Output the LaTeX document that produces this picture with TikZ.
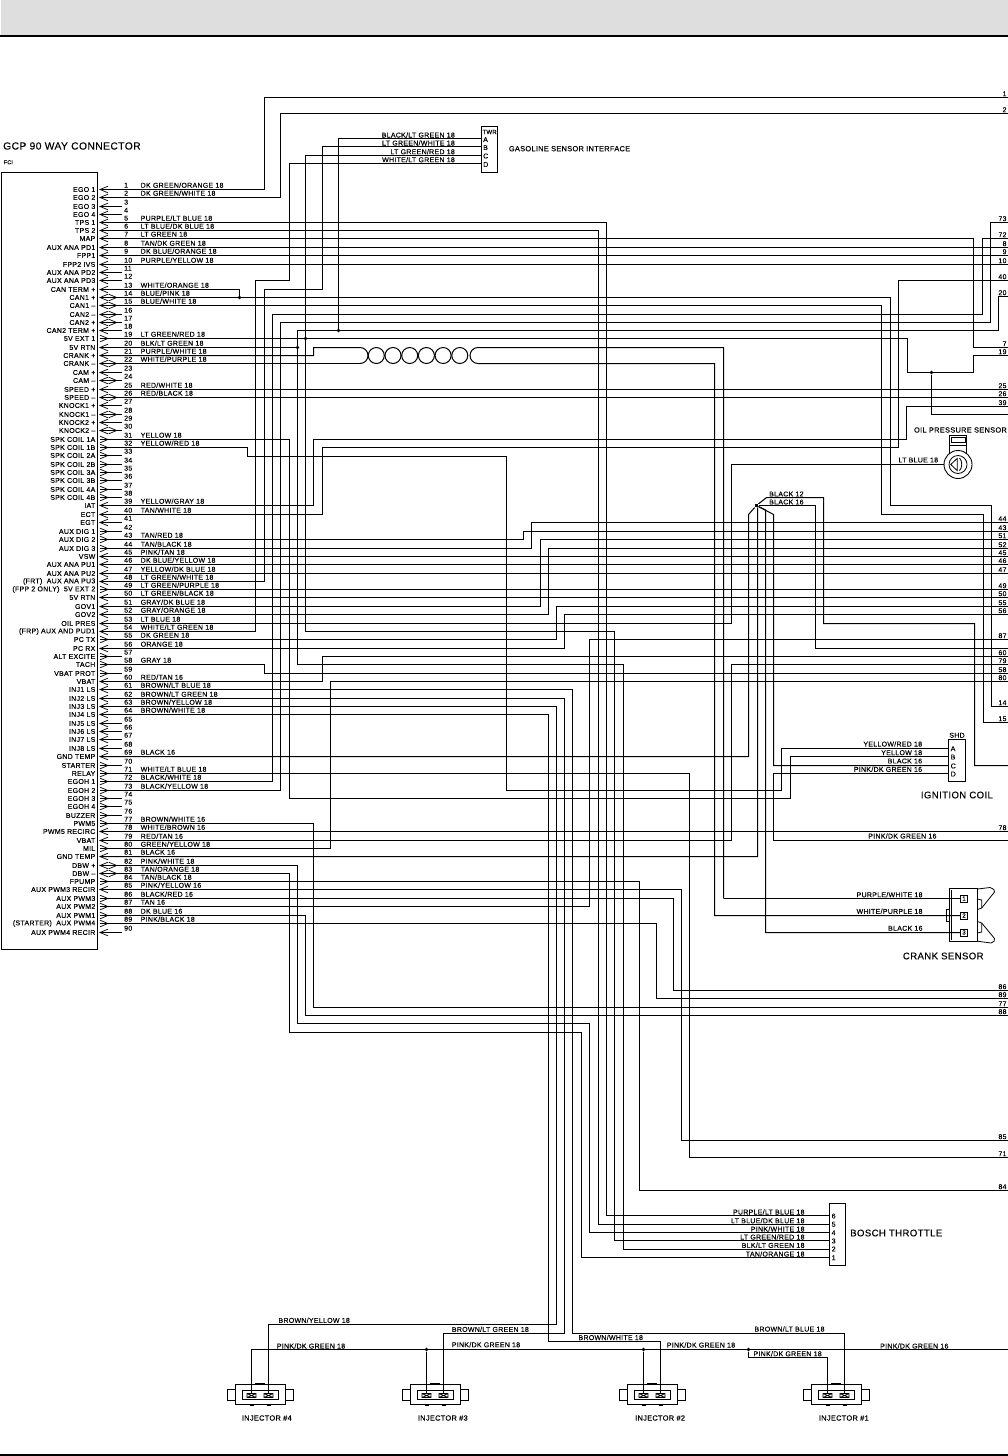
\documentclass[tikz,border=0pt]{standalone}
\usepackage{fontspec}
\setmainfont{Liberation Sans}[LetterSpace=4,FakeBold=0.12]
\tikzset{
 wire/.style={draw=black,line width=1pt,line join=miter},
 chev/.style={draw=black,line width=0.7pt},
 thinl/.style={draw=black,line width=0.8pt},
 dotm/.style={circle,fill=black,inner sep=0pt,minimum size=3.6pt},
 txt/.style={inner sep=0pt,font=\fontsize{7}{8}\selectfont},
 wl/.style={txt,anchor=west},
 wr/.style={txt,anchor=east},
 big/.style={inner sep=0pt,font=\fontsize{9.6}{11}\selectfont},
 mid/.style={inner sep=0pt,font=\fontsize{7.4}{9}\selectfont},
}
\def\pinrows{{189,197,206,214,222,230,238,247,255,264,272,280,289,297,305,314,322,330,338,347,355,363,372,380,389,397,405,414,422,430,439,447,455,464,472,480,489,497,505,514,522,531,539,548,556,564,573,581,589,597,606,614,623,631,639,648,656,664,673,681,689,698,706,714,723,731,739,748,756,765,773,781,790,798,806,815,823,831,840,848,856,865,873,881,889,898,906,915,923,932}}
\newcommand\pinlab[2]{\node[wr] (lab#1) at ([xshift=-4.5pt]p#1) {#2};}
\newcommand\wirelab[2]{\node[wl] (wn#1) at ([shift={(40.5,-4.3)}]p#1) {#2};}
\newcommand\rterm[2]{\coordinate (e#1) at (1008,#2); \node[txt,anchor=east] (rl#1) at ([shift={(-1.3,-3.8)}]e#1) {#1};}
\newcommand\rpin[1]{\coordinate (e#1) at (p#1 -| 1008,0); \node[txt,anchor=east] (rl#1) at ([shift={(-1.3,-3.8)}]e#1) {#1};}
\newcommand\injector[3]{%
 \begin{scope}[shift={(#1,0)}]
  \draw[thinl] (-25,1384.5) rectangle (25,1404.5);
  \draw[thinl] (-18,1390.5) rectangle (18,1399.5);
  \draw[thinl] (-13,1393.5) rectangle (-4,1397.5) (-13,1393.5) -- (-4,1397.5) (-13,1397.5) -- (-4,1393.5);
  \draw[thinl] (4,1393.5) rectangle (13,1397.5) (4,1393.5) -- (13,1397.5) (4,1397.5) -- (13,1393.5);
  \draw[thinl] (-25,1389.5) -- (-33,1389.5) -- (-33,1400.5) -- (-25,1400.5);
  \draw[thinl] (25,1389.5) -- (33,1389.5) -- (33,1400.5) -- (25,1400.5);
  \draw[line width=1pt] (-5,1383.6) -- (5,1383.6);
  \draw[line width=1pt] (-10.5,1405) -- (-6.5,1405) (6.5,1405) -- (10.5,1405);
  \coordinate (#2a) at (-8.5,1393.5);
  \coordinate (#2b) at (8.5,1393.5);
 \end{scope}
 \node[mid,anchor=west] (#2t) at (#3,1418) {INJECTOR \##2};}
\begin{document}
\begin{tikzpicture}[x=1pt,y=-1pt]
\useasboundingbox (0,0) rectangle (1008,1456);
% header / footer
\fill[white] (0,0) rectangle (1008,1456);
\fill[black!13] (1,0) rectangle (1008,35);
\fill[black] (0,34.7) rectangle (1008,36.8);
\fill[black] (0,1454) rectangle (1008,1456);
% connector
\draw[thinl] (1.5,172.5) rectangle (97.5,949.5);
\node[big,anchor=west,font=\fontsize{10.3}{12}\selectfont] (title) at (3,146) {GCP 90 WAY CONNECTOR};
\node[txt,anchor=west,font=\fontsize{5.5}{7}\selectfont] (fci) at (3.5,162.3) {FCI};
\foreach \n in {1,...,90}{
 \pgfmathsetmacro\yy{\pinrows[\n-1]+0.5}
 \coordinate (p\n) at (100,\yy);
 \node[txt,anchor=west] (num\n) at (124,\yy-4.3) {\n};
}
\foreach \n in {1,...,13,18,20,21,23,25,27,29,39,40,41,45,46,47,48,50,51,52,53,54,56,60,61,62,63,64,65,66,67,68,69,78,79,81,85,90}{
 \draw[chev] ([shift={(8,-3.3)}]p\n) -- (p\n) -- ([shift={(8,3.3)}]p\n);
}
\foreach \n in {19,31,32,33,34,35,36,37,38,42,43,44,49,55,57,58,59,70,71,72,73,74,75,76,77,80,84,86,87,88,89}{
 \draw[chev] ([shift={(0,-3.3)}]p\n) -- ([shift={(8,0)}]p\n) -- ([shift={(0,3.3)}]p\n);
}
\foreach \n in {14,15,16,17,22,24,26,28,30,82,83}{
 \draw[chev] ([shift={(8,-3.3)}]p\n) -- (p\n) -- ([shift={(8,3.3)}]p\n);
 \draw[chev] ([shift={(8.7,-3.3)}]p\n) -- ([shift={(16.7,0)}]p\n) -- ([shift={(8.7,3.3)}]p\n);
}
\foreach \n in {3,4,11,12,16,17,18,23,24,27,28,29,30,33,34,35,36,37,38,41,42,57,59,65,66,67,68,70,74,75,76,90}{
 \draw[wire] (p\n) -- ++(21.7,0);
}
% pin names
\pinlab{1}{EGO 1}\pinlab{2}{EGO 2}\pinlab{3}{EGO 3}\pinlab{4}{EGO 4}\pinlab{5}{TPS 1}\pinlab{6}{TPS 2}\pinlab{7}{MAP}\pinlab{8}{AUX ANA PD1}\pinlab{9}{FPP1}\pinlab{10}{FPP2 IVS}\pinlab{11}{AUX ANA PD2}\pinlab{12}{AUX ANA PD3}\pinlab{13}{CAN TERM +}\pinlab{14}{CAN1 +}\pinlab{15}{CAN1 –}\pinlab{16}{CAN2 –}\pinlab{17}{CAN2 +}\pinlab{18}{CAN2 TERM +}\pinlab{19}{5V EXT 1}\pinlab{20}{5V RTN}\pinlab{21}{CRANK +}\pinlab{22}{CRANK –}\pinlab{23}{CAM +}\pinlab{24}{CAM –}\pinlab{25}{SPEED +}\pinlab{26}{SPEED –}\pinlab{27}{KNOCK1 +}\pinlab{28}{KNOCK1 –}\pinlab{29}{KNOCK2 +}\pinlab{30}{KNOCK2 –}
\pinlab{31}{SPK COIL 1A}\pinlab{32}{SPK COIL 1B}\pinlab{33}{SPK COIL 2A}\pinlab{34}{SPK COIL 2B}\pinlab{35}{SPK COIL 3A}\pinlab{36}{SPK COIL 3B}\pinlab{37}{SPK COIL 4A}\pinlab{38}{SPK COIL 4B}\pinlab{39}{IAT}\pinlab{40}{ECT}\pinlab{41}{EGT}\pinlab{42}{AUX DIG 1}\pinlab{43}{AUX DIG 2}\pinlab{44}{AUX DIG 3}\pinlab{45}{VSW}\pinlab{46}{AUX ANA PU1}\pinlab{47}{AUX ANA PU2}\pinlab{48}{(FRT)\ \ AUX ANA PU3}\pinlab{49}{(FPP 2 ONLY)\ \ 5V EXT 2}\pinlab{50}{5V RTN}\pinlab{51}{GOV1}\pinlab{52}{GOV2}\pinlab{53}{OIL PRES}\pinlab{54}{(FRP) AUX AND PUD1}\pinlab{55}{PC TX}\pinlab{56}{PC RX}\pinlab{57}{ALT EXCITE}\pinlab{58}{TACH}\pinlab{59}{VBAT PROT}\pinlab{60}{VBAT}
\pinlab{61}{INJ1 LS}\pinlab{62}{INJ2 LS}\pinlab{63}{INJ3 LS}\pinlab{64}{INJ4 LS}\pinlab{65}{INJ5 LS}\pinlab{66}{INJ6 LS}\pinlab{67}{INJ7 LS}\pinlab{68}{INJ8 LS}\pinlab{69}{GND TEMP}\pinlab{70}{STARTER}\pinlab{71}{RELAY}\pinlab{72}{EGOH 1}\pinlab{73}{EGOH 2}\pinlab{74}{EGOH 3}\pinlab{75}{EGOH 4}\pinlab{76}{BUZZER}\pinlab{77}{PWM5}\pinlab{78}{PWM5 RECIRC}\pinlab{79}{VBAT}\pinlab{80}{MIL}\pinlab{81}{GND TEMP}\pinlab{82}{DBW +}\pinlab{83}{DBW –}\pinlab{84}{FPUMP}\pinlab{85}{AUX PWM3 RECIR}\pinlab{86}{AUX PWM3}\pinlab{87}{AUX PWM2}\pinlab{88}{AUX PWM1}\pinlab{89}{(STARTER)\ \ AUX PWM4}\pinlab{90}{AUX PWM4 RECIR}
% wire names
\wirelab{1}{DK GREEN/ORANGE 18}\wirelab{2}{DK GREEN/WHITE 18}\wirelab{5}{PURPLE/LT BLUE 18}\wirelab{6}{LT BLUE/DK BLUE 18}\wirelab{7}{LT GREEN 18}\wirelab{8}{TAN/DK GREEN 18}\wirelab{9}{DK BLUE/ORANGE 18}\wirelab{10}{PURPLE/YELLOW 18}\wirelab{13}{WHITE/ORANGE 18}\wirelab{14}{BLUE/PINK 18}\wirelab{15}{BLUE/WHITE 18}\wirelab{19}{LT GREEN/RED 18}\wirelab{20}{BLK/LT GREEN 18}\wirelab{21}{PURPLE/WHITE 18}\wirelab{22}{WHITE/PURPLE 18}\wirelab{25}{RED/WHITE 18}\wirelab{26}{RED/BLACK 18}\wirelab{31}{YELLOW 18}\wirelab{32}{YELLOW/RED 18}\wirelab{39}{YELLOW/GRAY 18}\wirelab{40}{TAN/WHITE 18}\wirelab{43}{TAN/RED 18}\wirelab{44}{TAN/BLACK 18}\wirelab{45}{PINK/TAN 18}\wirelab{46}{DK BLUE/YELLOW 18}\wirelab{47}{YELLOW/DK BLUE 18}\wirelab{48}{LT GREEN/WHITE 18}\wirelab{49}{LT GREEN/PURPLE 18}\wirelab{50}{LT GREEN/BLACK 18}\wirelab{51}{GRAY/DK BLUE 18}\wirelab{52}{GRAY/ORANGE 18}\wirelab{53}{LT BLUE 18}\wirelab{54}{WHITE/LT GREEN 18}\wirelab{55}{DK GREEN 18}\wirelab{56}{ORANGE 18}\wirelab{58}{GRAY 18}\wirelab{60}{RED/TAN 16}
\wirelab{61}{BROWN/LT BLUE 18}\wirelab{62}{BROWN/LT GREEN 18}\wirelab{63}{BROWN/YELLOW 18}\wirelab{64}{BROWN/WHITE 18}\wirelab{69}{BLACK 16}\wirelab{71}{WHITE/LT BLUE 18}\wirelab{72}{BLACK/WHITE 18}\wirelab{73}{BLACK/YELLOW 18}\wirelab{77}{BROWN/WHITE 16}\wirelab{78}{WHITE/BROWN 16}\wirelab{79}{RED/TAN 16}\wirelab{80}{GREEN/YELLOW 18}\wirelab{81}{BLACK 16}\wirelab{82}{PINK/WHITE 18}\wirelab{83}{TAN/ORANGE 18}\wirelab{84}{TAN/BLACK 18}\wirelab{85}{PINK/YELLOW 16}\wirelab{86}{BLACK/RED 16}\wirelab{87}{TAN 16}\wirelab{88}{DK BLUE 16}\wirelab{89}{PINK/BLACK 18}
% right-hand terminals
\rterm{1}{97.5}\rterm{2}{113.5}\rterm{73}{222.5}\rterm{72}{238.5}\rpin{8}\rpin{9}\rpin{10}\rterm{40}{280.5}\rterm{20}{296.5}\rterm{7}{347.5}\rterm{19}{355.5}\rpin{25}\rpin{26}\rterm{39}{406.5}
\rterm{44}{522.5}\rterm{43}{531.5}\rterm{51}{539.5}\rterm{52}{548.5}\rpin{45}\rpin{46}\rpin{47}\rpin{49}\rpin{50}\rterm{55}{606.5}\rterm{56}{614.5}\rterm{87}{639.5}\rterm{60}{656.5}\rterm{79}{664.5}\rterm{58}{673.5}\rterm{80}{681.5}\rterm{14}{706.5}\rterm{15}{722.5}\rpin{78}
\rterm{86}{990.5}\rterm{89}{998.5}\rterm{77}{1007.5}\rterm{88}{1015.5}\rterm{85}{1140.5}\rterm{71}{1157.5}\rterm{84}{1190.5}
\coordinate (eoil) at (1008,414.5);
\coordinate (egnd1) at (1008,765.5);
\coordinate (egnd2) at (1008,648.5);
\coordinate (epk) at (1008,840.5);
\coordinate (epkinj) at (1008,1349.5);
% gasoline sensor interface
\node[draw=black,line width=0.9pt,minimum width=16pt,minimum height=46pt,inner sep=0pt] (twr) at (489.5,149.5) {};
\coordinate (twrA) at (481.5,138.5);\coordinate (twrB) at (481.5,146.5);\coordinate (twrC) at (481.5,155.5);\coordinate (twrD) at (481.5,163.5);
\node[txt,font=\fontsize{6}{7}\selectfont] (twrT) at (489.6,132) {TWR};
\foreach \l/\y in {A/139.5,B/147.5,C/156,D/164.5}{\node[txt,anchor=west] (twr\l t) at (483,\y) {\l};}
\node[wr] (tw1) at (455,135) {BLACK/LT GREEN 18};
\node[wr] (tw2) at (455,143) {LT GREEN/WHITE 18};
\node[wr] (tw3) at (455,151.7) {LT GREEN/RED 18};
\node[wr] (tw4) at (455,159.7) {WHITE/LT GREEN 18};
\node[mid,anchor=west] (gsi) at (508.7,148.7) {GASOLINE SENSOR INTERFACE};
% bosch throttle
\node[draw=black,line width=0.9pt,minimum width=16pt,minimum height=62pt,inner sep=0pt] (bosch) at (837.5,1234.5) {};
\coordinate (b6) at (829.5,1215.5);\coordinate (b5) at (829.5,1224.5);\coordinate (b4) at (829.5,1232.5);\coordinate (b3) at (829.5,1240.5);\coordinate (b2) at (829.5,1249.5);\coordinate (b1) at (829.5,1257.5);
\foreach \l/\y in {6/1216,5/1224.3,4/1232.7,3/1241,2/1249,1/1257.7}{\node[txt,anchor=west] (bn\l) at (831.5,\y) {\l};}
\node[big,anchor=west] (boscht) at (850,1233) {BOSCH THROTTLE};
\node[wr] (bw6) at (804.7,1212) {PURPLE/LT BLUE 18};
\node[wr] (bw5) at (804.7,1220.7) {LT BLUE/DK BLUE 18};
\node[wr] (bw4) at (804.7,1229) {PINK/WHITE 18};
\node[wr] (bw3) at (804.7,1237) {LT GREEN/RED 18};
\node[wr] (bw2) at (804.7,1245.3) {BLK/LT GREEN 18};
\node[wr] (bw1) at (804.7,1254) {TAN/ORANGE 18};
% oil pressure sensor
\node[mid,anchor=east] (oilt) at (1007,430) {OIL PRESSURE SENSOR};
\draw[thinl] (949.5,435.7) rectangle (966.5,445) (951.7,437.7) rectangle (965,442.3);
\draw[thinl] (949.5,445) -- (949.5,453.5) (966.5,445) -- (966.5,453.5);
\node[circle,draw=black,line width=0.9pt,minimum size=28pt,inner sep=0pt,fill=white] (oils) at (958,464.5) {};
\draw[thinl] (958,464.5) circle[radius=9pt];
\draw[thinl] (957.3,458.3) -- (950.7,464.5) -- (957.3,470.7) -- cycle;
\draw[thinl] (959.5,458) .. controls (962.5,461) and (962.5,467.5) .. (959.5,470.7);
\node[wr] (oilw) at (938.3,460) {LT BLUE 18};
% ignition coil
\node[draw=black,line width=0.9pt,minimum width=17pt,minimum height=42pt,inner sep=0pt] (ign) at (957,760.5) {};
\coordinate (ignA) at (948.5,748.5);\coordinate (ignB) at (948.5,756.5);\coordinate (ignC) at (948.5,765.5);\coordinate (ignD) at (948.5,773.5);
\node[txt] (shd) at (957,735.3) {SHD};
\foreach \l/\y in {A/748.7,B/757,C/766,D/774}{\node[txt,anchor=west] (ign\l t) at (950.5,\y) {\l};}
\node[wr] (ig1) at (922.3,744) {YELLOW/RED 18};
\node[wr] (ig2) at (922.3,752.7) {YELLOW 18};
\node[wr] (ig3) at (922.3,761) {BLACK 16};
\node[wr] (ig4) at (922.3,769.3) {PINK/DK GREEN 16};
\node[big,anchor=west] (igt) at (920.7,795) {IGNITION COIL};
\node[wr] (pkg) at (936.7,836) {PINK/DK GREEN 16};
% crank sensor
\draw[line width=0.9pt] (949.5,888.5) rectangle (977.5,941.5);
\draw[thinl] (951,890) -- (951,940.3);
\draw[thinl] (949.5,909.5) -- (946.5,909.5) -- (946.5,921.5) -- (949.5,921.5);
\draw[thinl] (977.5,889) -- (990,887.5) .. controls (994,889) and (995,890.5) .. (994.5,892) -- (981.7,908) -- (977.5,909.5) -- (977.5,921.5) -- (981.7,923) -- (994.5,938.5) .. controls (995,940.5) and (994,942.5) .. (991,943) -- (977.5,941.2);
\draw[thinl] (981.7,908) -- (981.7,900) -- (977.5,899);
\draw[thinl] (981.7,923) -- (981.7,932) -- (977.5,933);
\node[draw=black,line width=0.8pt,fill=white,minimum size=7pt,inner sep=0pt,font=\fontsize{6}{7}\selectfont] (c1) at (964,898.5) {1};
\node[draw=black,line width=0.8pt,fill=white,minimum size=7pt,inner sep=0pt,font=\fontsize{6}{7}\selectfont] (c2) at (964,915.5) {2};
\node[draw=black,line width=0.8pt,fill=white,minimum size=7pt,inner sep=0pt,font=\fontsize{6}{7}\selectfont] (c3) at (964,932.5) {3};
\node[wr] (cr1) at (922.7,894.7) {PURPLE/WHITE 18};
\node[wr] (cr2) at (922.7,911.3) {WHITE/PURPLE 18};
\node[wr] (cr3) at (922.7,928.3) {BLACK 16};
\node[big,anchor=west] (crt) at (902.7,956) {CRANK SENSOR};
% injectors
\injector{260}{4}{241.7}
\injector{435}{3}{417.7}
\injector{652}{2}{635}
\injector{836}{1}{818.7}
\node[wr,anchor=west] (iw1) at (278.3,1320.3) {BROWN/YELLOW 18};
\node[wr,anchor=west] (iw2) at (276.7,1346) {PINK/DK GREEN 18};
\node[wr,anchor=west] (iw3) at (451.7,1329.3) {BROWN/LT GREEN 18};
\node[wr,anchor=west] (iw4) at (451.7,1344.7) {PINK/DK GREEN 18};
\node[wr,anchor=west] (iw5) at (578.3,1337.5) {BROWN/WHITE 18};
\node[wr,anchor=west] (iw6) at (666.7,1345) {PINK/DK GREEN 18};
\node[wr,anchor=west] (iw7) at (754.3,1329) {BROWN/LT BLUE 18};
\node[wr,anchor=west] (iw8) at (753.3,1353.7) {PINK/DK GREEN 18};
\node[wr,anchor=west] (iw9) at (880,1346) {PINK/DK GREEN 16};
% junctions
\node[dotm] (j13) at (239.5,297.5) {};
\node[dotm] (j20) at (297.5,347.5) {};
\node[dotm] (j19) at (305.5,338.5) {};
\node[dotm] (jA) at (338.5,330.5) {};
\node[dotm] (joil) at (931.5,372.5) {};
\node[dotm,rectangle,minimum size=3.6pt] (star) at (756.5,505.5) {};
\node[dotm] (ji3) at (426.5,1349.5) {};
\node[dotm] (ji2) at (643.5,1349.5) {};
\node[dotm] (ji1) at (748.5,1349.5) {};
% wires
\draw[wire] (p1) -| (264.5,97.5) -- (e1);
\draw[wire] (p2) -| (280.5,113.5) -- (e2);
\draw[wire] (p5) -| (606.5,1215.5) -- (b6);
\draw[wire] (p6) -| (598.5,1224.5) -- (b5);
\draw[wire] (p7) -| (973.5,347.5) -- (e7);
\draw[wire] (p8) -- (e8);
\draw[wire] (p9) -- (e9);
\draw[wire] (p10) -- (e10);
\draw[wire] (p13) -| (j13);
\draw[wire] (p14) -| (890.5,505.5) -| (991.5,706.5) -- (e14);
\draw[wire] (p15) -| (881.5,514.5) -| (983.5,722.5) -- (e15);
\draw[wire] (p19) -| (907.5,372.5) -| (973.5,355.5) -- (e19);
\draw[wire] (joil) -- (931.5,414.5) -- (eoil);
\draw[wire] (p20) -- (j20);
\draw[wire] (e20) -| (998.5,330.5) -- (297.5,330.5) -- (297.5,664.5) -- (623.5,664.5) -- (623.5,1249.5) -- (b2);
\draw[wire] (jA) -- (338.5,138.5) -- (twrA);
\draw[wire] (twrC) -| (305.5,631.5) -| (614.5,1240.5) -- (b3);
\draw[wire] (p21) -| (313.5,347.5) -- (360,347.5) arc[start angle=90,end angle=-90,radius=8pt];
\draw[wire] (p22) -- (360,363.5);
\foreach \cx in {376.3,393,409.7,426.4,443.1,459.8}{\draw[wire] (\cx,355.5) circle[radius=8pt];}
\draw[wire] (723.5,898.5) |- (478,347.5) arc[start angle=90,end angle=270,radius=8pt] -- (714.5,363.5) -- (714.5,915.5) -- (c2);
\draw[wire] (723.5,898.5) -- (c1);
\draw[wire] (p25) -- (e25);
\draw[wire] (p26) -- (e26);
\draw[wire] (p31) -| (289.5,798.5) -| (790.5,756.5) -- (ignB);
\draw[wire] (p32) -| (247.5,456.5) -| (506.5,790.5) -| (781.5,748.5) -- (ignA);
\draw[wire] (p39) -| (313.5,439.5) -| (906.5,406.5) -- (e39);
\draw[wire] (p40) -| (322.5,447.5) -| (898.5,280.5) -- (e40);
\draw[wire] (p43) -| (523.5,531.5) -- (e43);
\draw[wire] (p44) -| (531.5,522.5) -- (e44);
\draw[wire] (p45) -- (e45);
\draw[wire] (p46) -- (e46);
\draw[wire] (p47) -- (e47);
\draw[wire] (p48) -| (264.5,289.5) -| (322.5,146.5) -- (twrB);
\draw[wire] (p49) -- (e49);
\draw[wire] (p50) -- (e50);
\draw[wire] (p51) -| (540.5,539.5) -- (e51);
\draw[wire] (p52) -| (548.5,548.5) -- (e52);
\draw[wire] (p53) -| (731.5,464.5) -- (oils.west);
\draw[wire] (p54) -| (255.5,280.5) -| (289.5,163.5) -- (twrD);
\draw[wire] (p55) -| (556.5,606.5) -- (e55);
\draw[wire] (p56) -| (564.5,614.5) -- (e56);
\draw[wire] (p58) -| (264.5,673.5) -- (e58);
\draw[wire] (p60) -| (322.5,656.5) -- (e60);
\draw[wire] (p61) -| (572.5,1333.5) -| (1b);
\draw[wire] (p62) -| (564.5,1333.5) -| (3b);
\draw[wire] (p63) -| (556.5,1324.5) -| (4b);
\draw[wire] (p64) -| (548.5,1341.5) -| (2b);
\draw[wire] (p69) -| (748.5,514.5) -- (star);
\draw[wire] (p71) -| (689.5,1157.5) -- (e71);
\draw[wire] (p72) -| (272.5,314.5) -| (982.5,238.5) -- (e72);
\draw[wire] (p73) -| (280.5,322.5) -| (990.5,222.5) -- (e73);
\draw[wire] (p77) -| (313.5,1007.5) -- (e77);
\draw[wire] (p78) -- (e78);
\draw[wire] (p79) -| (731.5,664.5) -- (e79);
\draw[wire] (p80) -| (330.5,681.5) -- (e80);
\draw[wire] (p81) -| (757.5,508) -- (star);
\draw[wire] (p82) -| (297.5,1023.5) -| (589.5,1232.5) -- (b4);
\draw[wire] (p83) -| (289.5,1032.5) -| (581.5,1257.5) -- (b1);
\draw[wire] (p84) -| (639.5,1190.5) -- (e84);
\draw[wire] (p85) -| (681.5,1140.5) -- (e85);
\draw[wire] (p86) -| (673.5,990.5) -- (e86);
\draw[wire] (p87) -| (589.5,639.5) -- (e87);
\draw[wire] (p88) -| (305.5,1015.5) -- (e88);
\draw[wire] (p89) -| (656.5,998.5) -- (e89);
% ground star
\draw[wire] (star) -- (766.5,497.5) -| (823.5,623.5) -| (974.5,765.5) -- (egnd1);
\draw[wire] (star) -- (768,505.5) -| (815.5,648.5) -- (egnd2);
\draw[wire] (star) -- (765.5,510) |- (c3);
\draw[wire] (star) -- (773.5,514.5) |- (ignC);
\node[wl] (bl12) at (769,494) {BLACK 12};
\node[wl] (bl16) at (769,502) {BLACK 16};
\draw[wire] (ignD) -| (773.5,840.5) -- (epk);
% injector common
\draw[wire] (4a) |- (epkinj);
\draw[wire] (ji3) -- (3a);
\draw[wire] (ji2) -- (2a);
\draw[wire] (ji1) |- (757,1357.5) -| (1a);
\end{tikzpicture}
\end{document}
